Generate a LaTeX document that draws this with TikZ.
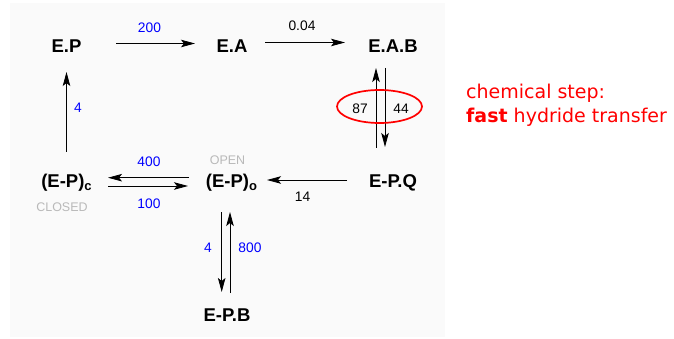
\documentclass[tikz,border=0pt]{standalone}
\usepackage{fontspec}
\setmainfont{Liberation Sans}
\newfontfamily\notefont{DejaVu Sans}
\usetikzlibrary{arrows.meta,shapes.geometric}
\definecolor{rateblue}{RGB}{0,0,255}
\definecolor{stepred}{RGB}{255,0,0}
\definecolor{confgray}{RGB}{185,185,185}
\definecolor{panelgray}{RGB}{250,250,250}

\begin{document}
\begin{tikzpicture}[x=1pt,y=-1pt,
  species/.style={font=\fontsize{18.5}{18.5}\selectfont\bfseries, inner sep=0pt, anchor=base},
  rate/.style={font=\fontsize{13.8}{13.8}\selectfont, inner sep=0pt},
  fastrate/.style={rate, text=rateblue},
  conf/.style={font=\fontsize{12.5}{12.5}\selectfont, text=confgray, inner sep=0pt},
  note/.style={font=\fontsize{19}{19}\selectfont\notefont, text=stepred, inner sep=0pt, anchor=base west},
  rxn/.style={line width=0.8pt, -{Stealth[length=14pt,width=7.5pt,inset=3pt]}}]
\useasboundingbox (0,0) rectangle (674,339);
\fill[panelgray] (10,3) rectangle (445,337);

% Species
\node[species] (ep) at (66.5,53) {E.P};
\node[species] (ea) at (232,53) {E.A};
\node[species] (eab) at (393,53) {E.A.B};
\node[species] (epc) at (66.5,187) {(E-P)\raisebox{-3pt}{\fontsize{13}{13}\selectfont c}};
\node[species] (epo) at (231.5,187) {(E-P)\raisebox{-3pt}{\fontsize{13}{13}\selectfont o}};
\node[species] (epq) at (393,187.5) {E-P.Q};
\node[species] (epb) at (227,321.5) {E-P.B};

% Conformations
\node[conf] (open) at (227.5,160.5) {OPEN};
\node[conf] (closed) at (62,207.5) {CLOSED};

% Steps
\draw[rxn] ([xshift=49.5pt,yshift=9.5pt]ep.base) -- ([xshift=-37pt,yshift=9.5pt]ea.base);
\draw[rxn] ([xshift=33pt,yshift=10.5pt]ea.base) -- ([xshift=-48pt,yshift=10.5pt]eab.base);
\draw[rxn] ([xshift=-17pt,yshift=39.5pt]epq.base) -- ([xshift=-17pt,yshift=-15pt]eab.base);
\draw[rxn] ([xshift=-8pt,yshift=-15pt]eab.base) -- ([xshift=-8pt,yshift=40.5pt]epq.base);
\draw[rxn] ([yshift=35pt]epc.base) -- ([yshift=-19pt]ep.base);
\draw[rxn] ([xshift=-42.5pt,yshift=9.3pt]epo.base) -- ([xshift=41.5pt,yshift=9.3pt]epc.base);
\draw[rxn] ([xshift=41.5pt,yshift=1pt]epc.base) -- ([xshift=-43.5pt,yshift=1pt]epo.base);
\draw[rxn] ([xshift=-46pt,yshift=7.5pt]epq.base) -- ([xshift=35.5pt,yshift=7pt]epo.base);
\draw[rxn] ([xshift=-9.8pt,yshift=-25pt]epo.base) -- ([xshift=-5.3pt,yshift=29.5pt]epb.base);
\draw[rxn] ([xshift=3pt,yshift=28.5pt]epb.base) -- ([xshift=-1.5pt,yshift=-25pt]epo.base);

% Rate constants
\node[fastrate] (k200) at (149.5,28) {200};
\node[rate] (k004) at (302,26) {0.04};
\node[rate] (k87) at (360,108.5) {87};
\node[rate] (k44) at (401,108.5) {44};
\node[fastrate] (k4c) at (78,108) {4};
\node[fastrate] (k400) at (149,162) {400};
\node[fastrate] (k100) at (149,204) {100};
\node[rate] (k14) at (302.5,197) {14};
\node[fastrate] (k4b) at (208,248) {4};
\node[fastrate] (k800) at (250,248) {800};

% Chemical step
\node[ellipse, draw=stepred, line width=1.7pt, minimum width=85pt, minimum height=33pt, inner sep=0pt] (ring) at (379.5,106.5) {};
\node[note] (note1) at (466,98.3) {chemical step:};
\node[note] (note2) at (466,122.3) {\textbf{fast} hydride transfer};
\end{tikzpicture}
\end{document}
